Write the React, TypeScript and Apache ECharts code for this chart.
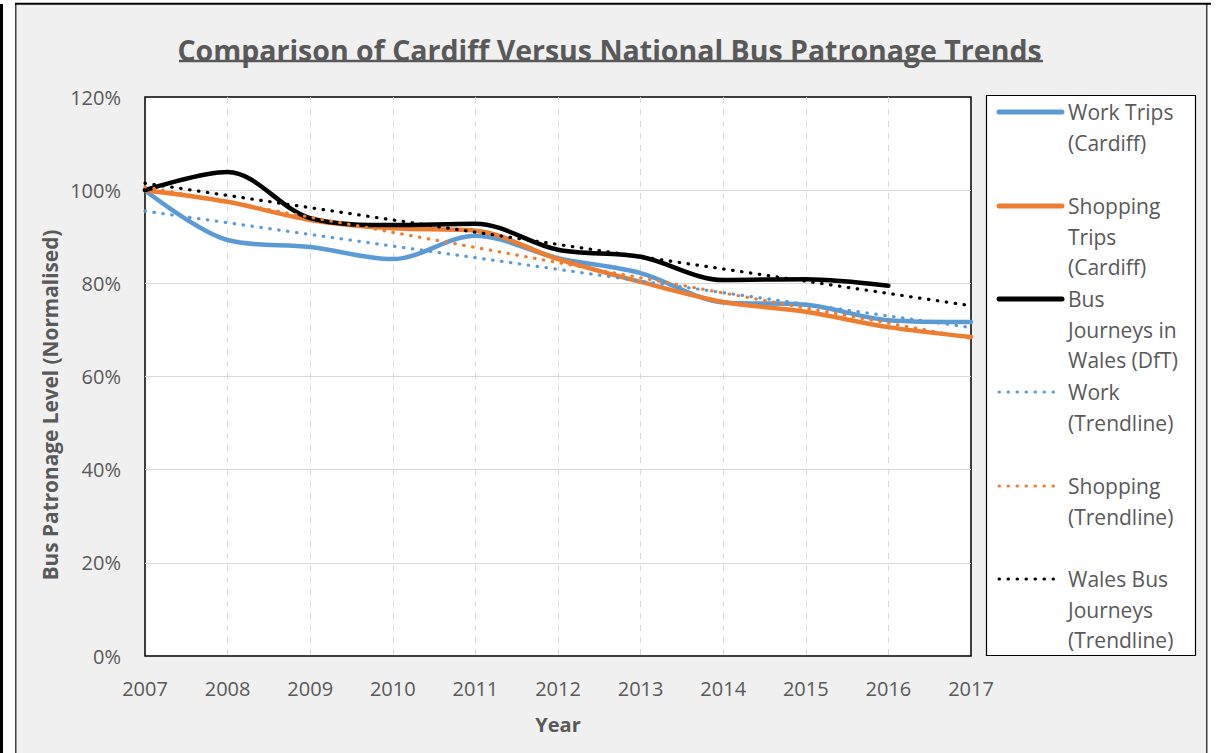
import React, { useEffect, useRef } from "react";
import * as echarts from "echarts";

const years = [2007, 2008, 2009, 2010, 2011, 2012, 2013, 2014, 2015, 2016, 2017];
const workTrips = [100, 89.3, 87.8, 85.2, 90.2, 85.4, 82.2, 75.9, 75.4, 72.1, 71.7];
const shoppingTrips = [100, 97.5, 93.6, 91.8, 91.3, 85.2, 80.3, 76.0, 73.9, 70.6, 68.5];
const busWalesYears = [2007, 2008, 2009, 2010, 2011, 2012, 2013, 2014, 2015, 2016];
const busWales = [100, 103.9, 94.0, 92.5, 92.8, 87.2, 85.7, 80.7, 80.9, 79.5];
const trendYears = [2007, 2017];
const workTrend = [95.5, 70.5];
const shoppingTrend = [100.7, 68.2];
const walesTrend = [101.5, 75.2];

const seriesNames = [
  "Work Trips (Cardiff)",
  "Shopping Trips (Cardiff)",
  "Bus Journeys in Wales (DfT)",
  "Work (Trendline)",
  "Shopping (Trendline)",
  "Wales Bus Journeys (Trendline)",
];
const legendLines = [
  "Work Trips\n(Cardiff)",
  "Shopping\nTrips\n(Cardiff)",
  "Bus\nJourneys in\nWales (DfT)",
  "Work\n(Trendline)",
  "Shopping\n(Trendline)",
  "Wales Bus\nJourneys\n(Trendline)",
];
const BLUE = "#5b9bd5";
const ORANGE = "#ed7d31";
const BLACK = "#000000";
const colors = [BLUE, ORANGE, BLACK, BLUE, ORANGE, BLACK];
const TEXT = "#595959";
const FONT = "'Open Sans', 'Noto Sans', sans-serif";

const pair = (xs: number[], ys: number[]) => xs.map((x, i) => [x, ys[i]]);

export default function App() {
  const ref = useRef<HTMLDivElement>(null);
  useEffect(() => {
    if (!ref.current) return;
    const chart = echarts.init(ref.current, undefined, { renderer: "svg" });

    const solid = (name: string, color: string, data: number[][]) => ({
      name,
      type: "line",
      data,
      smooth: 0.33,
      showSymbol: false,
      symbol: "none",
      lineStyle: { color, width: 4.5, cap: "round", join: "round" },
      itemStyle: { color },
    });
    const dotted = (name: string, color: string, data: number[][]) => ({
      name,
      type: "line",
      data,
      showSymbol: false,
      symbol: "none",
      lineStyle: { color, width: 3.2, type: [0.5, 8.5], cap: "round" },
      itemStyle: { color },
    });

    const legendY = [112, 206, 299, 392, 486, 579];
    const legendGraphics: any[] = [
      {
        type: "rect",
        shape: { x: 986.5, y: 95.5, width: 209, height: 560 },
        style: { fill: "#ffffff", stroke: "#000000", lineWidth: 1.2 },
        z: 100,
      },
    ];
    legendY.forEach((y, i) => {
      const isDotted = i >= 3;
      legendGraphics.push({
        type: "line",
        shape: { x1: 999, y1: y, x2: isDotted ? 1054 : 1062, y2: y },
        style: isDotted
          ? { stroke: colors[i], lineWidth: 3, lineDash: [0.5, 8.5], lineCap: "round" }
          : { stroke: colors[i], lineWidth: 5, lineCap: "round" },
        z: 101,
      });
      legendGraphics.push({
        type: "text",
        x: 1068,
        y: y - 15.25,
        style: {
          text: legendLines[i],
          fill: TEXT,
          fontFamily: FONT,
          fontSize: 21,
          lineHeight: 30.5,
          align: "left",
          verticalAlign: "top",
        },
        z: 101,
      });
    });

    const option: any = {
      animation: false,
      backgroundColor: "#f0f0f0",
      title: {
        text: "Comparison of Cardiff Versus National Bus Patronage Trends",
        left: "center",
        top: 30,
        textStyle: {
          color: TEXT,
          fontSize: 28.5,
          fontWeight: "bold",
          fontFamily: FONT,
        },
      },
      grid: {
        left: 145,
        top: 97,
        right: 248,
        bottom: 97,
        show: true,
        backgroundColor: "#ffffff",
        borderColor: "#000000",
        borderWidth: 1.5,
      },
      xAxis: {
        type: "value",
        min: 2007,
        max: 2017,
        interval: 1,
        name: "Year",
        nameLocation: "middle",
        nameGap: 58,
        nameTextStyle: { color: TEXT, fontSize: 20, fontWeight: "bold", fontFamily: FONT },
        axisLine: { show: false },
        axisTick: { show: false },
        axisLabel: {
          color: TEXT,
          fontSize: 20,
          fontFamily: FONT,
          margin: 22,
          formatter: (v: number) => String(v),
        },
        splitLine: {
          show: true,
          showMinLine: false,
          showMaxLine: false,
          lineStyle: { color: "#d9d9d9", type: [6, 6], width: 1 },
        },
      },
      yAxis: {
        type: "value",
        min: 0,
        max: 120,
        interval: 20,
        axisLine: { show: false },
        axisTick: { show: false },
        axisLabel: {
          color: TEXT,
          fontSize: 20,
          fontFamily: FONT,
          margin: 24,
          formatter: (v: number) => v + "%",
        },
        splitLine: {
          show: true,
          showMinLine: false,
          showMaxLine: false,
          lineStyle: { color: "#d9d9d9", width: 1.2 },
        },
      },
      series: [
        solid(seriesNames[0], BLUE, pair(years, workTrips)),
        solid(seriesNames[1], ORANGE, pair(years, shoppingTrips)),
        solid(seriesNames[2], BLACK, pair(busWalesYears, busWales)),
        dotted(seriesNames[3], BLUE, pair(trendYears, workTrend)),
        dotted(seriesNames[4], ORANGE, pair(trendYears, shoppingTrend)),
        dotted(seriesNames[5], BLACK, pair(trendYears, walesTrend)),
      ],
      graphic: [
        { type: "rect", shape: { x: 0, y: 0, width: 15, height: 753 }, style: { fill: "#ffffff" } },
        { type: "rect", shape: { x: 1207, y: 0, width: 12, height: 753 }, style: { fill: "#ffffff" } },
        { type: "rect", shape: { x: 0, y: 0, width: 1219, height: 3 }, style: { fill: "#ffffff" } },
        { type: "rect", shape: { x: 0, y: 4, width: 3, height: 749 }, style: { fill: "#000000" } },
        { type: "line", shape: { x1: 15.75, y1: 4, x2: 15.75, y2: 753 }, style: { stroke: "#404040", lineWidth: 1.5 } },
        { type: "line", shape: { x1: 1206.75, y1: 4, x2: 1206.75, y2: 753 }, style: { stroke: "#404040", lineWidth: 1.5 } },
        { type: "line", shape: { x1: 15, y1: 3.75, x2: 1211, y2: 3.75 }, style: { stroke: "#000000", lineWidth: 2 } },
        { type: "line", shape: { x1: 179, y1: 61, x2: 1043, y2: 61 }, style: { stroke: TEXT, lineWidth: 2.5 } },
        {
          type: "text",
          x: 50,
          y: 405,
          rotation: Math.PI / 2,
          style: {
            text: "Bus Patronage Level (Normalised)",
            fill: TEXT,
            fontSize: 20.8,
            fontWeight: "bold",
            fontFamily: FONT,
            align: "center",
            verticalAlign: "middle",
          },
        },
        ...legendGraphics,
      ],
    };
    chart.setOption(option);
    return () => chart.dispose();
  }, []);
  return (
    <div
      ref={ref}
      style={{ position: "absolute", left: 0, top: 0, width: 1219, height: 753 }}
    />
  );
}
